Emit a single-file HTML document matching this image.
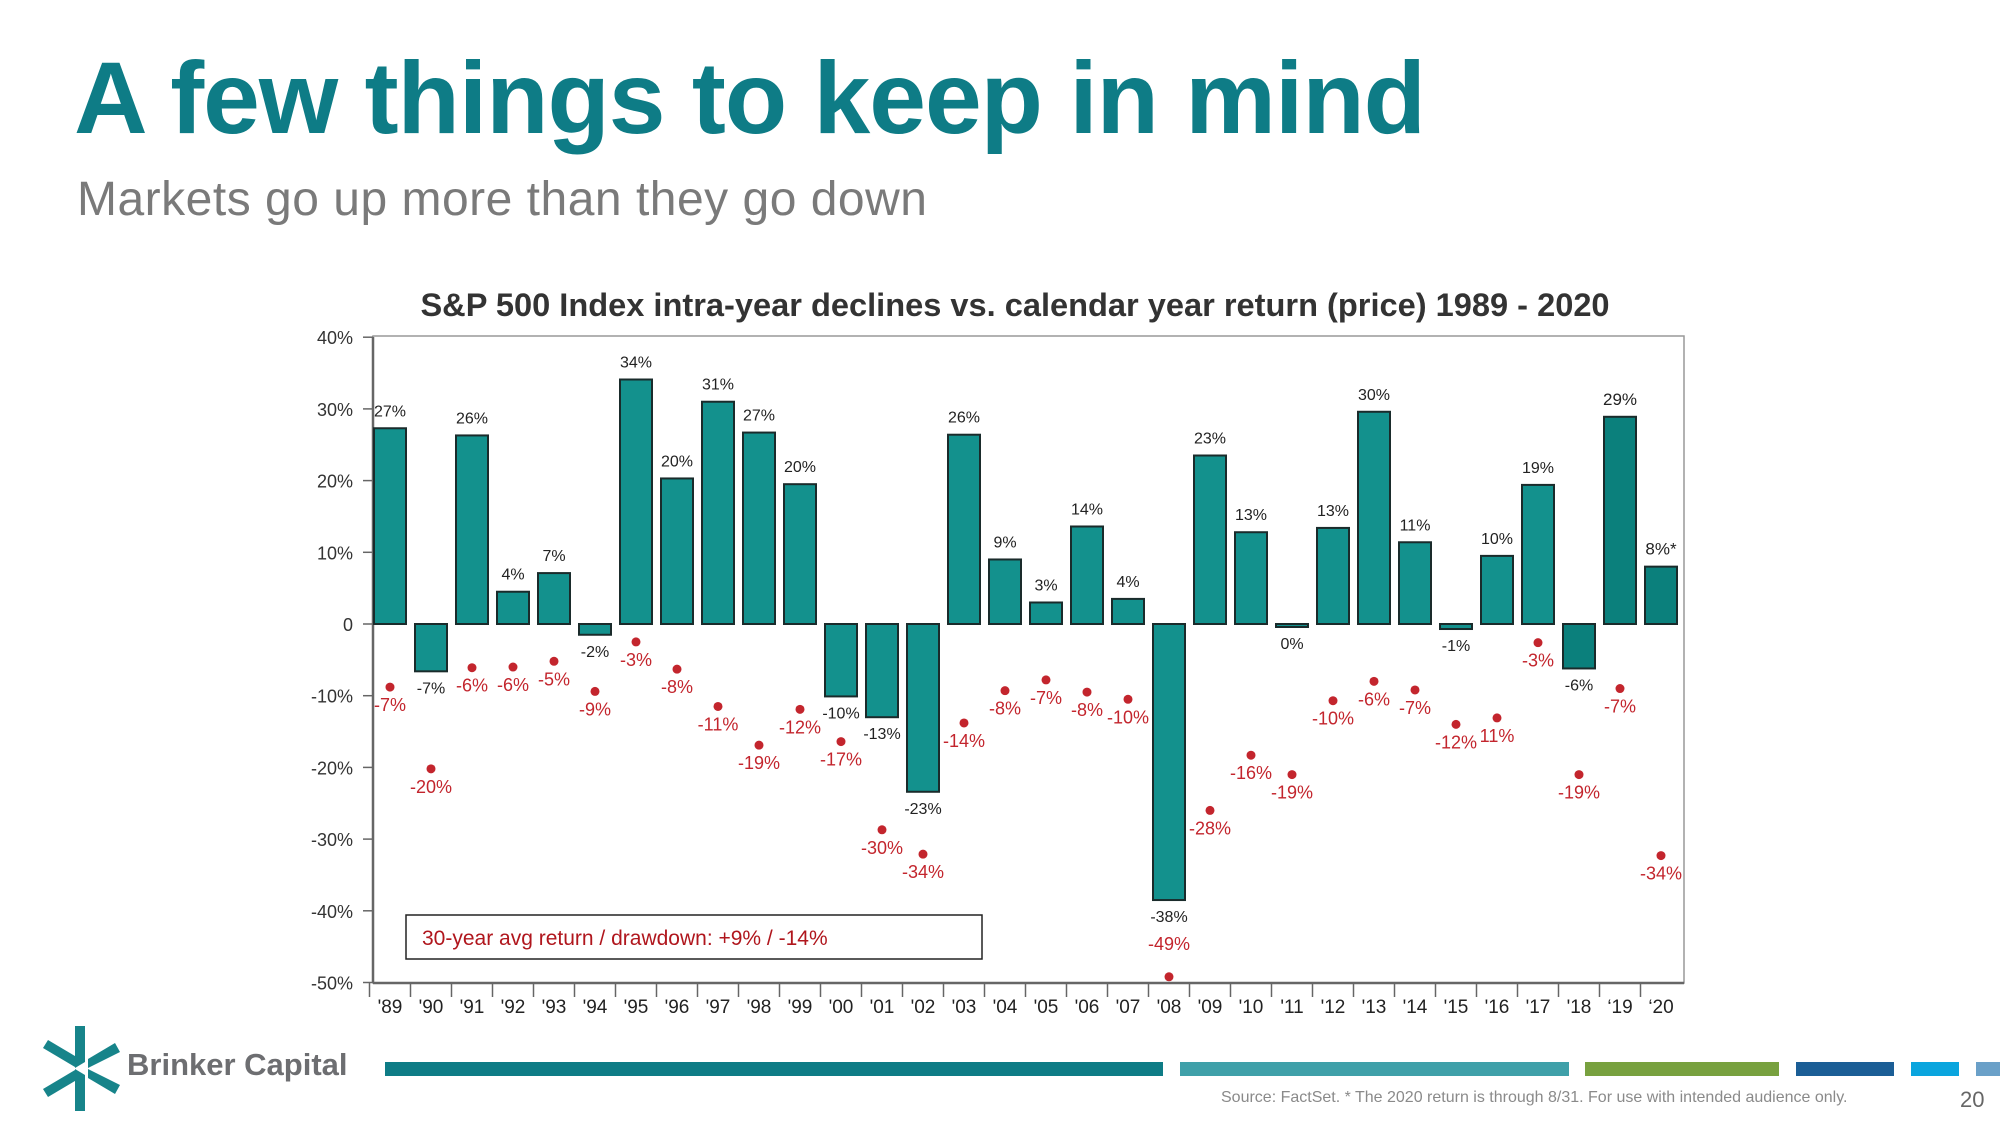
<!DOCTYPE html>
<html><head><meta charset="utf-8"><style>
html,body{margin:0;padding:0;background:#fff}
body{width:2000px;height:1125px;position:relative;overflow:hidden;font-family:"Liberation Sans",sans-serif}
.abs{position:absolute;white-space:nowrap}
</style></head><body>
<div class="abs" style="left:74px;top:40px;font-size:102px;font-weight:bold;color:#0e7c86;letter-spacing:-1px">A few things to keep in mind</div>
<div class="abs" style="left:77px;top:172px;font-size:48px;color:#7a7a7a;letter-spacing:0.5px">Markets go up more than they go down</div>
<svg id="chart" width="2000" height="1125" style="position:absolute;left:0;top:0" font-family="Liberation Sans, sans-serif">
<text x="1015" y="316" text-anchor="middle" font-size="32.6" font-weight="bold" fill="#333">S&amp;P 500 Index intra-year declines vs. calendar year return (price) 1989 - 2020</text>
</svg>
<svg width="80" height="85" style="position:absolute;left:43px;top:1026px" viewBox="0 0 80 85">
<polygon points="32,0 42,0 42,36 32,42" fill="#17848a"/>
<polygon points="32,85 42,85 42,49 32,43" fill="#17848a"/>
<polygon points="0,22 5,14 37,33 32,41" fill="#17848a"/>
<polygon points="0,63 5,71 37,52 32,44" fill="#17848a"/>
<polygon points="45,33 72,17 77,26 45,42" fill="#17848a"/>
<polygon points="45,52 72,68 77,59 45,43" fill="#17848a"/>
</svg>
<div class="abs" style="left:127px;top:1047px;font-size:31px;font-weight:bold;color:#6d6e71">Brinker Capital</div>
<div class="abs" style="left:385px;top:1062px;width:778px;height:14px;background:#0e7c86"></div>
<div class="abs" style="left:1180px;top:1062px;width:389px;height:14px;background:#3fa0a9"></div>
<div class="abs" style="left:1585px;top:1062px;width:194px;height:14px;background:#78a13f"></div>
<div class="abs" style="left:1796px;top:1062px;width:98px;height:14px;background:#1b5e96"></div>
<div class="abs" style="left:1911px;top:1062px;width:48px;height:14px;background:#0aa5de"></div>
<div class="abs" style="left:1976px;top:1062px;width:24px;height:14px;background:#6aa0c8"></div>
<div class="abs" style="left:1221px;top:1089px;font-size:16px;color:#8a8a8a">Source: FactSet. * The 2020 return is through 8/31.  For use with intended audience only.</div>
<div class="abs" style="left:1960px;top:1087px;font-size:22px;color:#666">20</div>
<script>
const years = ["'89","'90","'91","'92","'93","'94","'95","'96","'97","'98","'99","'00","'01","'02","'03","'04","'05","'06","'07","'08","'09","'10","'11","'12","'13","'14","'15","'16","'17","'18","\u201819","\u201820"];
const returns = [27.3,-6.6,26.3,4.5,7.1,-1.5,34.1,20.3,31.0,26.7,19.5,-10.1,-13.0,-23.4,26.4,9.0,3.0,13.6,3.5,-38.5,23.5,12.8,-0.4,13.4,29.6,11.4,-0.7,9.5,19.4,-6.2,28.9,8.0];
const returnLabels = ["27%","-7%","26%","4%","7%","-2%","34%","20%","31%","27%","20%","-10%","-13%","-23%","26%","9%","3%","14%","4%","-38%","23%","13%","0%","13%","30%","11%","-1%","10%","19%","-6%","29%","8%*"];
const drawdowns = [-8.8,-20.2,-6.1,-6.0,-5.2,-9.4,-2.5,-6.3,-11.5,-16.9,-11.9,-16.4,-28.7,-32.1,-13.8,-9.3,-7.8,-9.5,-10.5,-49.2,-26.0,-18.3,-21.0,-10.7,-8.0,-9.2,-14.0,-13.1,-2.6,-21.0,-9.0,-32.3];
const drawdownLabels = ["-7%","-20%","-6%","-6%","-5%","-9%","-3%","-8%","-11%","-19%","-12%","-17%","-30%","-34%","-14%","-8%","-7%","-8%","-10%","-49%","-28%","-16%","-19%","-10%","-6%","-7%","-12%","11%","-3%","-19%","-7%","-34%"];
const yTicks = [40,30,20,10,0,-10,-20,-30,-40,-50];
const yTickLabels = ["40%","30%","20%","10%","0","-10%","-20%","-30%","-40%","-50%"];

const svg = document.getElementById('chart');
const NS = 'http://www.w3.org/2000/svg';
const X0 = 373, X1 = 1684, YTOP = 337, YBOT = 983;
const yScale = v => 624 - v * 7.17;
const band = 41;
const xCenter = i => 390 + band * i;
function mk(tag, attrs){const e=document.createElementNS(NS,tag);for(const k in attrs)e.setAttribute(k,attrs[k]);svg.appendChild(e);return e;}

const frame = mk('rect',{x:X0,y:YTOP-1,width:X1-X0,height:YBOT-YTOP+1,fill:'none',stroke:'#999','stroke-width':1.5});


const yAxis = mk('line',{x1:X0,y1:YTOP,x2:X0,y2:YBOT,stroke:'#666','stroke-width':2.5});


const xAxis = mk('line',{x1:X0,y1:YBOT,x2:X1,y2:YBOT,stroke:'#666','stroke-width':2.5});



yTicks.forEach((v,i)=>{
  const t = mk('line',{x1:X0-10,y1:yScale(v),x2:X0,y2:yScale(v),stroke:'#666','stroke-width':1.5});
  
  
  const l = mk('text',{x:X0-20,y:yScale(v)+7,'text-anchor':'end','font-size':18,fill:'#333'});
  l.textContent = yTickLabels[i];
  
  
});

years.forEach((yr,i)=>{
  const cx = xCenter(i);
  const tk = mk('line',{x1:cx-band/2,y1:YBOT,x2:cx-band/2,y2:YBOT+14,stroke:'#666','stroke-width':1.5});
  
  
  const xl = mk('text',{x:cx,y:YBOT+30,'text-anchor':'middle','font-size':19,fill:'#222'});
  xl.textContent = yr;
  
  

  const v = returns[i];
  const top = yScale(Math.max(v,0)), bot = yScale(Math.min(v,0));
  const bar = mk('rect',{x:cx-16,y:top,width:32,height:Math.max(bot-top,3),fill:i>=29?'#0b807c':'#13918d',stroke:'#1a2b2b','stroke-width':2});
  
  
  const rl = mk('text',{x:cx,y:v>=0?top-12:bot+22,'text-anchor':'middle','font-size':i>=30?17:16,fill:'#222'});
  rl.textContent = returnLabels[i];
  
  

  const d = drawdowns[i];
  const dot = mk('circle',{cx:cx,cy:yScale(d),r:4.5,fill:'#c3252d'});
  
  
  const below = i!==19;
  const dl = mk('text',{x:cx,y:below?yScale(d)+24:yScale(d)-27,'text-anchor':'middle','font-size':18,fill:'#c3252d'});
  dl.textContent = drawdownLabels[i];
  
  
});

const box = mk('rect',{x:406,y:915,width:576,height:44,fill:'#fff',stroke:'#222','stroke-width':1.5});


const bt = mk('text',{x:422,y:945,'font-size':21,fill:'#b0161d'});
bt.textContent = '30-year avg return / drawdown:  +9% / -14%';


</script>
</body></html>
